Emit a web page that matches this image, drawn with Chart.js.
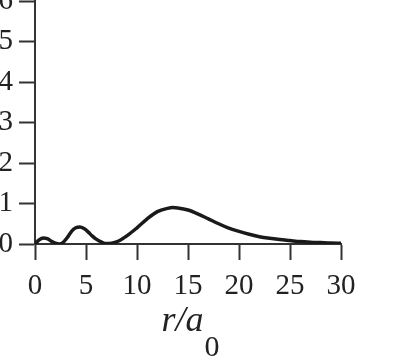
<!DOCTYPE html>
<html>
<head>
<meta charset="utf-8">
<script src="https://cdn.jsdelivr.net/npm/chart.js@4.4.0/dist/chart.umd.min.js"></script>
<style>
  html, body { margin: 0; padding: 0; background: #fff; }
  #wrap { width: 394px; height: 364px; }
</style>
</head>
<body>
<div id="wrap"><canvas id="myChart" width="394" height="364"></canvas></div>
<script>
// r / a0 values and radial probability
const rValues = [0, 0.4, 0.8, 1.2, 1.6, 2.0, 2.4, 2.8, 3.2, 3.6, 4.0, 4.4, 4.8, 5.2, 5.6, 6.0, 6.5, 7.0, 7.5, 8, 9, 10, 11, 12, 13, 13.5, 14, 15, 16, 17, 18, 19, 20, 21, 22, 23, 24, 25, 26, 27, 28, 29, 30];
const pValues = [0, 0.10, 0.15, 0.13, 0.07, 0.02, 0.0, 0.05, 0.17, 0.32, 0.40, 0.42, 0.38, 0.30, 0.20, 0.12, 0.05, 0.01, 0.02, 0.05, 0.20, 0.40, 0.62, 0.80, 0.88, 0.90, 0.89, 0.84, 0.74, 0.62, 0.50, 0.39, 0.31, 0.24, 0.18, 0.14, 0.11, 0.085, 0.06, 0.045, 0.035, 0.025, 0.02];
const xTicks = [0, 5, 10, 15, 20, 25, 30];
const yTicks = [0, 1, 2, 3, 4, 5, 6];

const serif = "'Liberation Serif', 'DejaVu Serif', serif";

// axis title r/a0 with subscript
const axisTitle = {
  id: 'axisTitle',
  afterDraw(chart) {
    const c = chart.ctx;
    const x = chart.scales.x.getPixelForValue(15);
    c.save();
    c.fillStyle = '#222';
    c.textBaseline = 'alphabetic';
    c.font = 'italic 36px ' + serif;
    const main = 'r/a';
    const w = c.measureText(main).width;
    c.font = '30px ' + serif;
    const ws = c.measureText('0').width;
    const left = x - (w + ws) / 2 + 2;
    c.font = 'italic 36px ' + serif;
    c.textAlign = 'left';
    c.fillText(main, left, 331);
    c.font = '30px ' + serif;
    c.fillText('0', left + w + 1, 356);
    c.restore();
  }
};

const ctx = document.getElementById('myChart').getContext('2d');
const myChart = new Chart(ctx, {
  type: 'line',
  data: {
    datasets: [{
      data: rValues.map((r, i) => ({ x: r, y: pValues[i] })),
      borderColor: '#1a1a1a',
      borderWidth: 3.5,
      pointRadius: 0,
      cubicInterpolationMode: 'monotone',
      fill: false
    }]
  },
  options: {
    responsive: false,
    animation: false,
    layout: { padding: { top: 1, right: 53, left: 0, bottom: 0 } },
    plugins: { legend: { display: false }, tooltip: { enabled: false } },
    scales: {
      x: {
        type: 'linear',
        min: 0,
        max: 30,
        afterBuildTicks: (s) => { s.ticks = xTicks.map(v => ({ value: v })); },
        afterFit: (s) => { s.height = 120; s.paddingLeft = 0; s.paddingRight = 0; },
        border: { display: true, color: '#333', width: 2 },
        grid: { drawOnChartArea: false, tickLength: 16, tickColor: '#333', tickWidth: 2 },
        ticks: { color: '#222', font: { family: serif, size: 29 }, padding: 9, maxRotation: 0 }
      },
      y: {
        min: 0,
        max: 6,
        afterBuildTicks: (s) => { s.ticks = yTicks.map(v => ({ value: v })); },
        afterFit: (s) => { s.width = 35; s.paddingTop = 0; s.paddingBottom = 0; },
        border: { display: true, color: '#333', width: 2 },
        grid: { drawOnChartArea: false, tickLength: 16, tickColor: '#333', tickWidth: 2 },
        ticks: { color: '#222', font: { family: serif, size: 29 }, padding: 6 }
      }
    }
  },
  plugins: [axisTitle]
});
</script>
</body>
</html>
